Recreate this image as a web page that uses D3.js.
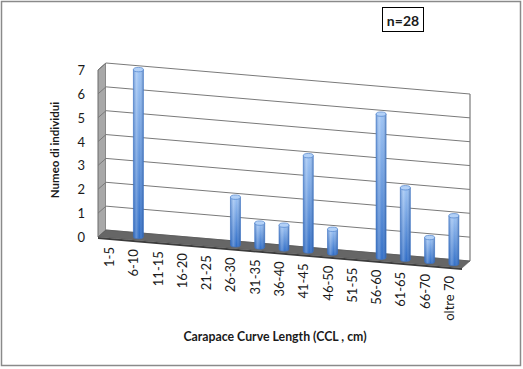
<!DOCTYPE html>
<html><head><meta charset="utf-8">
<script src="https://cdn.jsdelivr.net/npm/d3@7/dist/d3.min.js"></script>
<style>
html,body{margin:0;padding:0;background:#fff;}
svg{display:block;}
text{font-family:Lato,"Open Sans",sans-serif;fill:#1a1a1a;}
</style></head>
<body>
<script>
const categories = ["1-5","6-10","11-15","16-20","21-25","26-30","31-35","36-40","41-45","46-50","51-55","56-60","61-65","66-70","oltre 70"];
const values = [0,7,0,0,0,2,1,1,4,1,0,6,3,1,2];
const yTicks = [0,1,2,3,4,5,6,7];
const yTitle = "Numeo di individui";
const xTitle = "Carapace Curve Length (CCL , cm)";
const noteLabel = "n=28";

const W = 523, H = 369;
const svg = d3.select("body").append("svg").attr("width", W).attr("height", H);

// oblique 3D frame
const wallLeft = 106, wallRight = 470;
const depthVec = [-8, 7];
const x = d3.scaleBand().domain(categories).range([wallLeft, wallRight]);
const yBase = d3.scaleLinear().domain([wallLeft, wallRight]).range([230, 261]);
const h = d3.scaleLinear().domain([0, 7]).range([0, 167]);
function proj(px, v, d) { return [px + d*depthVec[0], yBase(px) - h(v) + d*depthVec[1]]; }

const defs = svg.append("defs");
const gv = defs.append("linearGradient").attr("id","gv").attr("x1",0).attr("y1",0).attr("x2",0).attr("y2",1);
gv.append("stop").attr("offset","0%").attr("stop-color","#9dc3f4");
gv.append("stop").attr("offset","100%").attr("stop-color","#2e6cc6");
const gh = defs.append("linearGradient").attr("id","gh").attr("x1",0).attr("y1",0).attr("x2",1).attr("y2",0);
gh.append("stop").attr("offset","0%").attr("stop-color","#1d4f9e").attr("stop-opacity",0.35);
gh.append("stop").attr("offset","30%").attr("stop-color","#ffffff").attr("stop-opacity",0.25);
gh.append("stop").attr("offset","60%").attr("stop-color","#ffffff").attr("stop-opacity",0.0);
gh.append("stop").attr("offset","100%").attr("stop-color","#123f85").attr("stop-opacity",0.45);

// outer border
svg.append("rect").attr("x",1.5).attr("y",1.5).attr("width",519).attr("height",364)
  .attr("fill","#fff").attr("stroke","#8a8a8a").attr("stroke-width",1.5);

const line = d3.line();
const vMax = d3.max(yTicks);

// left side wall
svg.append("path").attr("d", line([proj(wallLeft,vMax,1), proj(wallLeft,vMax,0), proj(wallLeft,0,0), proj(wallLeft,0,1)]) + "Z")
  .attr("fill","#a8a8a8").attr("stroke","#6a6a6a").attr("stroke-width",1);

// back wall
svg.append("path").attr("d", line([proj(wallLeft,vMax,0), proj(wallRight,vMax,0), proj(wallRight,0,0), proj(wallLeft,0,0)]) + "Z")
  .attr("fill","#fff").attr("stroke","none");

// gridlines
svg.append("g").selectAll("path").data(yTicks).join("path")
  .attr("d", v => line([proj(wallLeft,v,1), proj(wallLeft,v,0), proj(wallRight,v,0)]))
  .attr("fill","none").attr("stroke","#7a7a7a").attr("stroke-width",1);
// right edge of back wall
svg.append("path").attr("d", line([proj(wallRight,vMax,0), proj(wallRight,0,0)]))
  .attr("stroke","#7a7a7a").attr("stroke-width",1.2);

// floor
const fl = [proj(wallLeft,0,0), proj(wallRight,0,0), proj(wallRight,0,1), proj(wallLeft,0,1)];
svg.append("path").attr("d", line([fl[3], fl[2], [fl[2][0], fl[2][1]+2], [fl[3][0], fl[3][1]+2]]) + "Z").attr("fill","#3c3c3c");
svg.append("path").attr("d", line(fl) + "Z").attr("fill","#666666").attr("stroke","#505050").attr("stroke-width",0.5);

// bars (cylinders)
const rx = 5, ry = 2.2;
const bars = svg.append("g").selectAll("g").data(categories.map((c,i)=>({c, v: values[i]})).filter(d=>d.v>0)).join("g");
bars.each(function(d){
  const g = d3.select(this);
  const cxp = x(d.c) + x.bandwidth()/2;
  const [bx, by] = proj(cxp, 0, 0.5);
  const [tx, ty] = proj(cxp, d.v, 0.5);
  const body = `M${tx-rx},${ty} L${bx-rx},${by} A${rx},${ry} 0 0 0 ${bx+rx},${by} L${tx+rx},${ty} Z`;
  g.append("path").attr("d", body).attr("fill","url(#gv)");
  g.append("path").attr("d", body).attr("fill","url(#gh)").attr("stroke","#3f74c2").attr("stroke-width",0.6);
  g.append("ellipse").attr("cx",tx).attr("cy",ty).attr("rx",rx).attr("ry",ry)
    .attr("fill","#b3d1f7").attr("stroke","#4f82cc").attr("stroke-width",0.7);
});

// y tick labels
svg.append("g").selectAll("text").data(yTicks).join("text")
  .attr("x", v => proj(wallLeft, v, 1)[0] - 13)
  .attr("y", v => proj(wallLeft, v, 1)[1])
  .attr("text-anchor","end").attr("dominant-baseline","central")
  .attr("font-size",13).text(v => v);

// category labels
svg.append("g").selectAll("text").data(categories).join("text")
  .attr("transform", c => { const p = proj(x(c)+x.bandwidth()/2, 0, 1); return `translate(${p[0]+4},${p[1]+9}) rotate(-90)`; })
  .attr("text-anchor","end").attr("font-size",13).attr("fill","#222").text(c => c);

// axis titles
svg.append("text").attr("transform","translate(59,150) rotate(-90)")
  .attr("text-anchor","middle").attr("font-size",11.5).attr("font-weight","bold").text(yTitle);
svg.append("text").attr("x",275).attr("y",341)
  .attr("text-anchor","middle").attr("font-size",12.3).attr("font-weight","bold").text(xTitle);

// n=28 box
svg.append("rect").attr("x",382.5).attr("y",7.5).attr("width",41).attr("height",24)
  .attr("fill","#fff").attr("stroke","#000").attr("stroke-width",1);
svg.append("text").attr("x",403).attr("y",20).attr("text-anchor","middle").attr("dominant-baseline","central")
  .attr("font-size",14).attr("font-weight","bold").text(noteLabel);
</script>
</body></html>
